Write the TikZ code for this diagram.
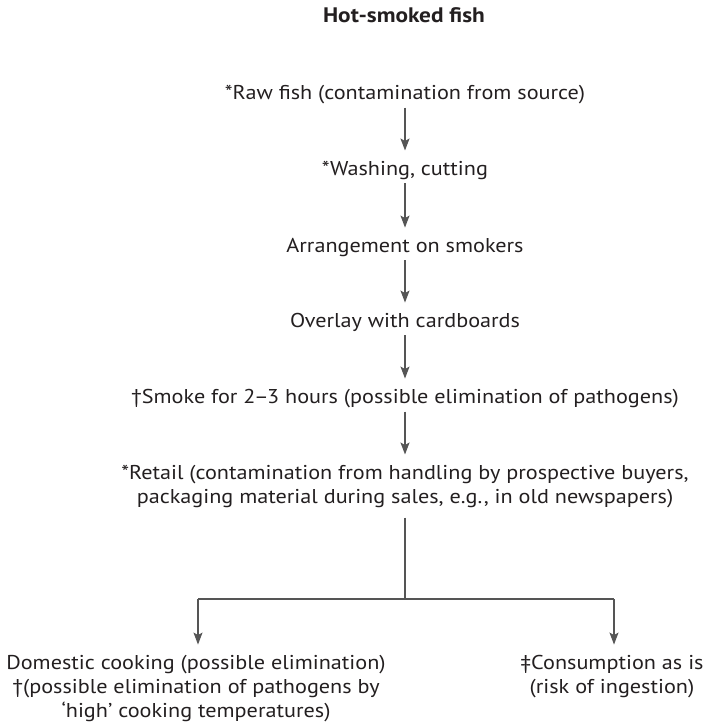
\documentclass[tikz,border=0pt]{standalone}
\usepackage{fontspec}
\setmainfont{PT Sans}[FakeStretch=1.11]
\usetikzlibrary{arrows.meta}
\definecolor{ink}{HTML}{231F20}
\definecolor{wire}{HTML}{555555}
\newcommand{\rangedash}{\kern-1.5pt–\kern-1.5pt}
\begin{document}
\begin{tikzpicture}[x=1pt,y=-1pt,
  stage/.style={anchor=base,inner sep=0pt,align=center,text=ink,
    font=\fontsize{20}{24}\selectfont},
  heading/.style={anchor=base,inner sep=0pt,text=ink,
    font=\fontsize{21}{24}\selectfont\bfseries},
  flow/.style={draw=wire,line width=1.3pt,
    -{Stealth[length=12pt,width=9pt,inset=2.5pt]},
    shorten <=4pt,shorten >=10pt},
  wireline/.style={draw=wire,line width=1.3pt}]
\useasboundingbox (0,0) rectangle (707,728);

\node[heading] (title) at (404,23) {Hot-smoked fish};

% single-line stages: anchored on their baseline
\node[stage] (raw)   at (405,99)  {*Raw fish (contamination from source)};
\node[stage] (wash)  at (405,175) {*Washing, cutting};
\node[stage] (arr)   at (405,252) {Arrangement on smokers};
\node[stage] (over)  at (405,327) {Overlay with cardboards};
\node[stage] (smoke) at (405,403) {†Smoke for 2\rangedash3 hours (possible elimination of pathogens)};
% multi-line stages: base anchor sits on the last line
\node[stage] (retail) at (405,503) {*Retail (contamination from handling by prospective buyers,\\
  packaging material during sales, e.g., in old newspapers)};

\node[stage] (dom) at (196,717) {Domestic cooking (possible elimination)\\
  †(possible elimination of pathogens by\\ ‘high’ cooking temperatures)};
\node[stage] (eat) at (612,693) {‡Consumption as is\\ (risk of ingestion)};

\draw[flow] (raw) -- (wash);
\draw[flow] (wash) -- (arr);
\draw[flow] (arr) -- (over);
\draw[flow] (over) -- (smoke);
\draw[flow] (smoke) -- (retail);

% split below the retail stage
\coordinate (split) at (405,599);
\coordinate (splitL) at (198,599);
\coordinate (splitR) at (614,599);
\draw[wireline,shorten <=10pt] (retail.south) -- (split);
\draw[wireline] (splitL) -- (splitR);
\draw[flow,shorten <=0pt] (splitL) -- (splitL |- dom.north);
\draw[flow,shorten <=0pt] (splitR) -- (splitR |- eat.north);
\end{tikzpicture}
\end{document}
